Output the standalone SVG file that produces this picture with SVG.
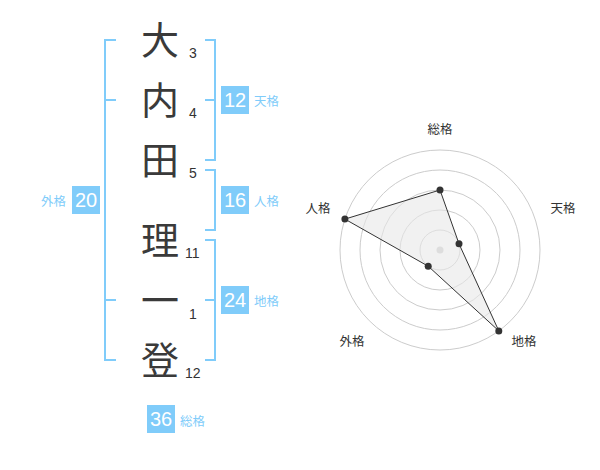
<svg xmlns="http://www.w3.org/2000/svg" width="600" height="470" viewBox="0 0 600 470">
<style>
.kanji{font-family:"Noto Sans CJK JP","Noto Sans",sans-serif;font-size:38px;fill:#3a3a3a;text-anchor:middle}
.num{font-family:"Liberation Sans","Noto Sans",sans-serif;font-size:14px;fill:#333}
.br{fill:none;stroke:#80ccfa;stroke-width:2}
.box{fill:#80ccfa}
.bn{font-family:"Liberation Sans",sans-serif;font-size:20px;fill:#fff;text-anchor:middle}
.bl{font-family:"Noto Sans CJK JP",sans-serif;font-size:12.5px;fill:#80ccfa}
.ring{fill:none;stroke:#ccc;stroke-width:1}
.ax{font-family:"Noto Sans CJK JP",sans-serif;font-size:12.5px;fill:#333;text-anchor:middle}
</style>
<rect width="600" height="470" fill="#fff"/>
<g id="names">
<text class="kanji" x="160" y="54">大</text>
<text class="kanji" x="160" y="114">内</text>
<text class="kanji" x="160" y="174">田</text>
<text class="kanji" x="160" y="254">理</text>
<text class="kanji" x="160" y="314">一</text>
<text class="kanji" x="160" y="374">登</text>
<text class="num" x="189" y="58">3</text>
<text class="num" x="189" y="118">4</text>
<text class="num" x="189" y="178">5</text>
<text class="num" x="185" y="258">11</text>
<text class="num" x="189" y="319">1</text>
<text class="num" x="185" y="378">12</text>
</g>
<g id="connectors">
<path class="br" d="M116,40 H105 V360 H116 M105,100 H116 M105,300 H116"/>
<path class="br" d="M205,40 H215 V160 H205 M215,100 H205"/>
<path class="br" d="M205,170 H215 V230 H205"/>
<path class="br" d="M205,240 H215 V360 H205 M215,300 H205"/>
</g>
<g id="tenkaku"><rect class="box" x="221" y="86" width="28" height="28"/><text class="bn" x="235" y="107">12</text><text class="bl" x="254" y="106">天格</text></g>
<g id="jinkaku"><rect class="box" x="221" y="186" width="28" height="28"/><text class="bn" x="235" y="207">16</text><text class="bl" x="254" y="206">人格</text></g>
<g id="gaikaku"><rect class="box" x="72" y="186" width="28" height="28"/><text class="bn" x="86" y="207">20</text><text class="bl" x="41" y="206">外格</text></g>
<g id="chikaku"><rect class="box" x="221" y="286" width="28" height="28"/><text class="bn" x="235" y="307">24</text><text class="bl" x="254" y="306">地格</text></g>
<g id="soukaku"><rect class="box" x="147" y="405" width="28" height="28"/><text class="bn" x="161" y="426">36</text><text class="bl" x="180" y="426">総格</text></g>
<g id="radar">
<circle class="ring" cx="440" cy="250" r="20"/>
<circle class="ring" cx="440" cy="250" r="40"/>
<circle class="ring" cx="440" cy="250" r="60"/>
<circle class="ring" cx="440" cy="250" r="80"/>
<circle class="ring" cx="440" cy="250" r="100"/>
<circle cx="440" cy="250" r="3.5" fill="#ccc"/>
<polygon points="440,190 459,243.8 498.8,330.9 428.2,266.2 344.9,219.1" fill="#e8e8e8" fill-opacity="0.6" stroke="#333" stroke-width="1"/>
<g fill="#333">
<circle cx="440" cy="190" r="3.5"/>
<circle cx="459" cy="243.8" r="3.5"/>
<circle cx="498.8" cy="330.9" r="3.5"/>
<circle cx="428.2" cy="266.2" r="3.5"/>
<circle cx="344.9" cy="219.1" r="3.5"/>
</g>
<text class="ax" x="440" y="134">総格</text>
<text class="ax" x="563" y="213">天格</text>
<text class="ax" x="318" y="213">人格</text>
<text class="ax" x="352" y="346">外格</text>
<text class="ax" x="524" y="346">地格</text>
</g>
</svg>
